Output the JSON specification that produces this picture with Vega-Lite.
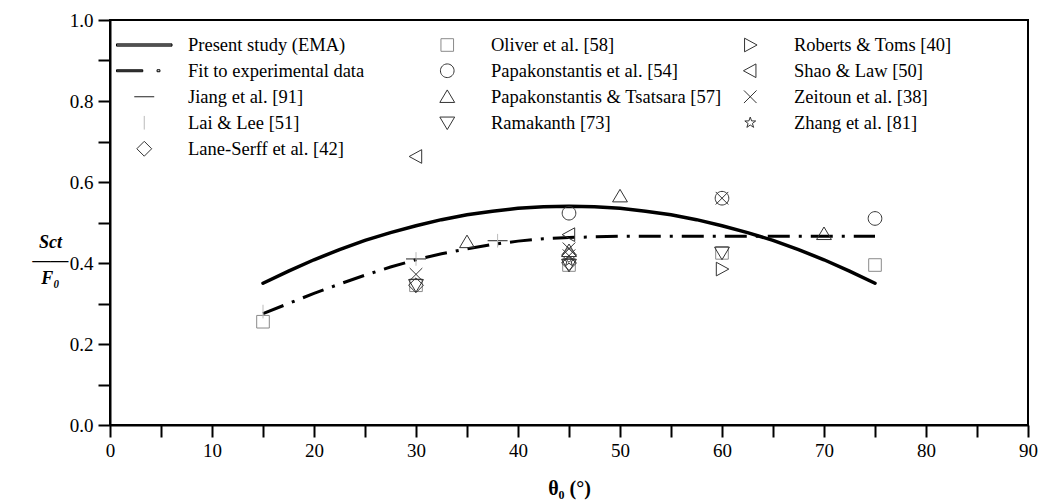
{
  "$schema": "https://vega.github.io/schema/vega-lite/v6.json",
  "width": 918,
  "height": 405,
  "autosize": {"type": "none"},
  "padding": {"left": 110, "top": 20, "right": 15, "bottom": 79},
  "config": {
    "view": {"stroke": "black", "strokeWidth": 2},
    "font": "Liberation Serif",
    "axis": {
      "domainColor": "black", "domainWidth": 2, "tickColor": "black", "tickWidth": 2,
      "grid": false, "labelFont": "Liberation Serif", "labelFontSize": 19, "labelColor": "black",
      "titleColor": "black", "titleFont": "Liberation Serif", "labelOverlap": false
    }
  },
  "datasets": {
    "curves": [
      {"theta": 15, "ratio": 0.35, "source": "Present study (EMA)"},
      {"theta": 17.5, "ratio": 0.38, "source": "Present study (EMA)"},
      {"theta": 20, "ratio": 0.408, "source": "Present study (EMA)"},
      {"theta": 22.5, "ratio": 0.433, "source": "Present study (EMA)"},
      {"theta": 25, "ratio": 0.456, "source": "Present study (EMA)"},
      {"theta": 27.5, "ratio": 0.475, "source": "Present study (EMA)"},
      {"theta": 30, "ratio": 0.492, "source": "Present study (EMA)"},
      {"theta": 32.5, "ratio": 0.507, "source": "Present study (EMA)"},
      {"theta": 35, "ratio": 0.519, "source": "Present study (EMA)"},
      {"theta": 37.5, "ratio": 0.528, "source": "Present study (EMA)"},
      {"theta": 40, "ratio": 0.535, "source": "Present study (EMA)"},
      {"theta": 42.5, "ratio": 0.539, "source": "Present study (EMA)"},
      {"theta": 45, "ratio": 0.54, "source": "Present study (EMA)"},
      {"theta": 47.5, "ratio": 0.539, "source": "Present study (EMA)"},
      {"theta": 50, "ratio": 0.535, "source": "Present study (EMA)"},
      {"theta": 52.5, "ratio": 0.528, "source": "Present study (EMA)"},
      {"theta": 55, "ratio": 0.519, "source": "Present study (EMA)"},
      {"theta": 57.5, "ratio": 0.507, "source": "Present study (EMA)"},
      {"theta": 60, "ratio": 0.492, "source": "Present study (EMA)"},
      {"theta": 62.5, "ratio": 0.475, "source": "Present study (EMA)"},
      {"theta": 65, "ratio": 0.456, "source": "Present study (EMA)"},
      {"theta": 67.5, "ratio": 0.433, "source": "Present study (EMA)"},
      {"theta": 70, "ratio": 0.408, "source": "Present study (EMA)"},
      {"theta": 72.5, "ratio": 0.38, "source": "Present study (EMA)"},
      {"theta": 75, "ratio": 0.35, "source": "Present study (EMA)"},
      {"theta": 15, "ratio": 0.275, "source": "Fit to experimental data"},
      {"theta": 17.5, "ratio": 0.3, "source": "Fit to experimental data"},
      {"theta": 20, "ratio": 0.325, "source": "Fit to experimental data"},
      {"theta": 22.5, "ratio": 0.348, "source": "Fit to experimental data"},
      {"theta": 25, "ratio": 0.37, "source": "Fit to experimental data"},
      {"theta": 27.5, "ratio": 0.39, "source": "Fit to experimental data"},
      {"theta": 30, "ratio": 0.408, "source": "Fit to experimental data"},
      {"theta": 32.5, "ratio": 0.423, "source": "Fit to experimental data"},
      {"theta": 35, "ratio": 0.435, "source": "Fit to experimental data"},
      {"theta": 37.5, "ratio": 0.446, "source": "Fit to experimental data"},
      {"theta": 40, "ratio": 0.454, "source": "Fit to experimental data"},
      {"theta": 42.5, "ratio": 0.46, "source": "Fit to experimental data"},
      {"theta": 45, "ratio": 0.463, "source": "Fit to experimental data"},
      {"theta": 50, "ratio": 0.466, "source": "Fit to experimental data"},
      {"theta": 55, "ratio": 0.466, "source": "Fit to experimental data"},
      {"theta": 60, "ratio": 0.466, "source": "Fit to experimental data"},
      {"theta": 65, "ratio": 0.466, "source": "Fit to experimental data"},
      {"theta": 70, "ratio": 0.466, "source": "Fit to experimental data"},
      {"theta": 75, "ratio": 0.466, "source": "Fit to experimental data"}
    ],
    "points": [
      {"theta": 15, "ratio": 0.255, "source": "Oliver et al. [58]"},
      {"theta": 30, "ratio": 0.345, "source": "Oliver et al. [58]"},
      {"theta": 45, "ratio": 0.395, "source": "Oliver et al. [58]"},
      {"theta": 60, "ratio": 0.425, "source": "Oliver et al. [58]"},
      {"theta": 75, "ratio": 0.395, "source": "Oliver et al. [58]"},
      {"theta": 45, "ratio": 0.523, "source": "Papakonstantis et al. [54]"},
      {"theta": 60, "ratio": 0.56, "source": "Papakonstantis et al. [54]"},
      {"theta": 75, "ratio": 0.51, "source": "Papakonstantis et al. [54]"},
      {"theta": 35, "ratio": 0.452, "source": "Papakonstantis & Tsatsara [57]"},
      {"theta": 45, "ratio": 0.43, "source": "Papakonstantis & Tsatsara [57]"},
      {"theta": 50, "ratio": 0.565, "source": "Papakonstantis & Tsatsara [57]"},
      {"theta": 70, "ratio": 0.472, "source": "Papakonstantis & Tsatsara [57]"},
      {"theta": 30, "ratio": 0.345, "source": "Ramakanth [73]"},
      {"theta": 45, "ratio": 0.395, "source": "Ramakanth [73]"},
      {"theta": 60, "ratio": 0.425, "source": "Ramakanth [73]"},
      {"theta": 60, "ratio": 0.385, "source": "Roberts & Toms [40]"},
      {"theta": 30, "ratio": 0.663, "source": "Shao & Law [50]"},
      {"theta": 45, "ratio": 0.47, "source": "Shao & Law [50]"},
      {"theta": 30, "ratio": 0.372, "source": "Zeitoun et al. [38]"},
      {"theta": 45, "ratio": 0.435, "source": "Zeitoun et al. [38]"},
      {"theta": 45, "ratio": 0.418, "source": "Zeitoun et al. [38]"},
      {"theta": 60, "ratio": 0.56, "source": "Zeitoun et al. [38]"},
      {"theta": 45, "ratio": 0.405, "source": "Zhang et al. [81]"},
      {"theta": 30, "ratio": 0.41, "source": "Jiang et al. [91]"},
      {"theta": 38, "ratio": 0.455, "source": "Jiang et al. [91]"},
      {"theta": 15, "ratio": 0.28, "source": "Lai & Lee [51]"},
      {"theta": 30, "ratio": 0.41, "source": "Lai & Lee [51]"},
      {"theta": 38, "ratio": 0.455, "source": "Lai & Lee [51]"},
      {"theta": 30, "ratio": 0.345, "source": "Lane-Serff et al. [42]"},
      {"theta": 45, "ratio": 0.42, "source": "Lane-Serff et al. [42]"},
      {"theta": 45, "ratio": 0.4, "source": "Lane-Serff et al. [42]"}
    ]
  },
  "encoding": {
    "x": {
      "field": "theta", "type": "quantitative",
      "scale": {"domain": [0, 90], "nice": false},
      "axis": {
        "values": [0, 5, 10, 15, 20, 25, 30, 35, 40, 45, 50, 55, 60, 65, 70, 75, 80, 85, 90],
        "labelExpr": "datum.value % 10 === 0 ? datum.label : ''",
        "tickSize": 12, "labelPadding": 4, "labelFlush": false,
        "title": "θ₀ (°)", "titleFontSize": 20, "titleFontWeight": "bold", "titlePadding": 18,
        "encode": {"ticks": {"update": {"y2": {"signal": "datum.value % 10 === 0 ? 12 : 7"}}}}
      }
    },
    "y": {
      "field": "ratio", "type": "quantitative",
      "scale": {"domain": [0, 1], "nice": false},
      "axis": {
        "values": [0, 0.1, 0.2, 0.3, 0.4, 0.5, 0.6, 0.7, 0.8, 0.9, 1.0],
        "format": ".1f",
        "labelExpr": "round(datum.value * 10) % 2 === 0 ? datum.label : ''",
        "tickSize": 12, "labelPadding": 5,
        "encode": {"ticks": {"update": {"x2": {"signal": "round(datum.value * 10) % 2 === 0 ? -12 : -7"}}}},
        "title": ["Sct", "——", "F₀"], "titleAngle": 0, "titleFontSize": 18, "titleFontWeight": "bold",
        "titleFontStyle": "italic", "titleLineHeight": 18, "titleX": -60, "titleY": 222, "titleAlign": "center", "titleBaseline": "middle"
      }
    }
  },
  "layer": [
    {
      "data": {"name": "curves"},
      "transform": [{"filter": "datum.source === 'Present study (EMA)'"}],
      "mark": {"type": "line", "color": "black", "strokeWidth": 3.5, "strokeCap": "round"}
    },
    {
      "data": {"name": "curves"},
      "transform": [{"filter": "datum.source === 'Fit to experimental data'"}],
      "mark": {"type": "line", "color": "black", "strokeWidth": 3, "strokeDash": [22, 9, 3, 9]}
    },
    {
      "data": {"name": "points"},
      "mark": {"type": "point", "filled": false, "size": 225, "strokeWidth": 1, "opacity": 1},
      "encoding": {
        "shape": {
          "field": "source", "type": "nominal",
          "scale": {
            "domain": ["Present study (EMA)", "Fit to experimental data", "Jiang et al. [91]", "Lai & Lee [51]", "Zhang et al. [81]", "Oliver et al. [58]", "Papakonstantis et al. [54]", "Papakonstantis & Tsatsara [57]", "Ramakanth [73]", "Lane-Serff et al. [42]", "Roberts & Toms [40]", "Shao & Law [50]", "Zeitoun et al. [38]"],
            "range": [
              "M-3.7,-0.15H3.7V0.15H-3.7ZM-3.7,0H3.7",
              "M-3.7,-0.13H-0.2V0.13H-3.7ZM-3.7,0H-0.2M1.71,-0.13H2.09V0.13H1.71Z",
              "M-1.33,0H1.33",
              "M0,-0.91V0.91",
              "M0,-0.76L0.179,-0.247L0.722,-0.236L0.289,0.095L0.448,0.616L0,0.304L-0.448,0.616L-0.289,0.095L-0.722,-0.236L-0.179,-0.247Z",
              "M-0.84,-0.84H0.84V0.84H-0.84Z",
              "M-0.91,0A0.91,0.91,0,1,0,0.91,0A0.91,0.91,0,1,0,-0.91,0Z",
              "M0,-0.91L0.99,0.76H-0.99Z",
              "M0,0.91L0.99,-0.76H-0.99Z",
              "M0,-0.99L0.99,0L0,0.99L-0.99,0Z",
              "M0.91,0L-0.76,-0.91V0.91Z",
              "M-0.91,0L0.76,-0.91V0.91Z",
              "M-0.84,-0.84L0.84,0.84M-0.84,0.84L0.84,-0.84"
            ]
          },
          "legend": {
            "title": null, "orient": "none", "legendX": 6, "legendY": 12, "columns": 3,
            "gridAlign": "all",
            "symbolSize": 225, "clipHeight": 25.5, "rowPadding": 0, "columnPadding": 0,
            "labelOffset": 34.5, "symbolOffset": 19, "padding": 0,
            "labelFont": "Liberation Serif", "labelFontSize": 18.5, "labelColor": "black", "labelLimit": 400,
            "symbolStrokeWidth": 1, "symbolOpacity": 1,
            "encode": {
              "symbols": {
                "update": {
                  "fill": {"value": "transparent"}
                }
              }
            }
          }
        },
        "stroke": {
          "field": "source", "type": "nominal",
          "scale": {
            "domain": ["Present study (EMA)", "Fit to experimental data", "Jiang et al. [91]", "Lai & Lee [51]", "Zhang et al. [81]", "Oliver et al. [58]", "Papakonstantis et al. [54]", "Papakonstantis & Tsatsara [57]", "Ramakanth [73]", "Lane-Serff et al. [42]", "Roberts & Toms [40]", "Shao & Law [50]", "Zeitoun et al. [38]"],
            "range": ["#000000", "#000000", "#222222", "#bbbbbb", "#333333", "#8a8a8a", "#333333", "#333333", "#333333", "#333333", "#333333", "#333333", "#333333"]
          }
        }
      }
    }
  ]
}
